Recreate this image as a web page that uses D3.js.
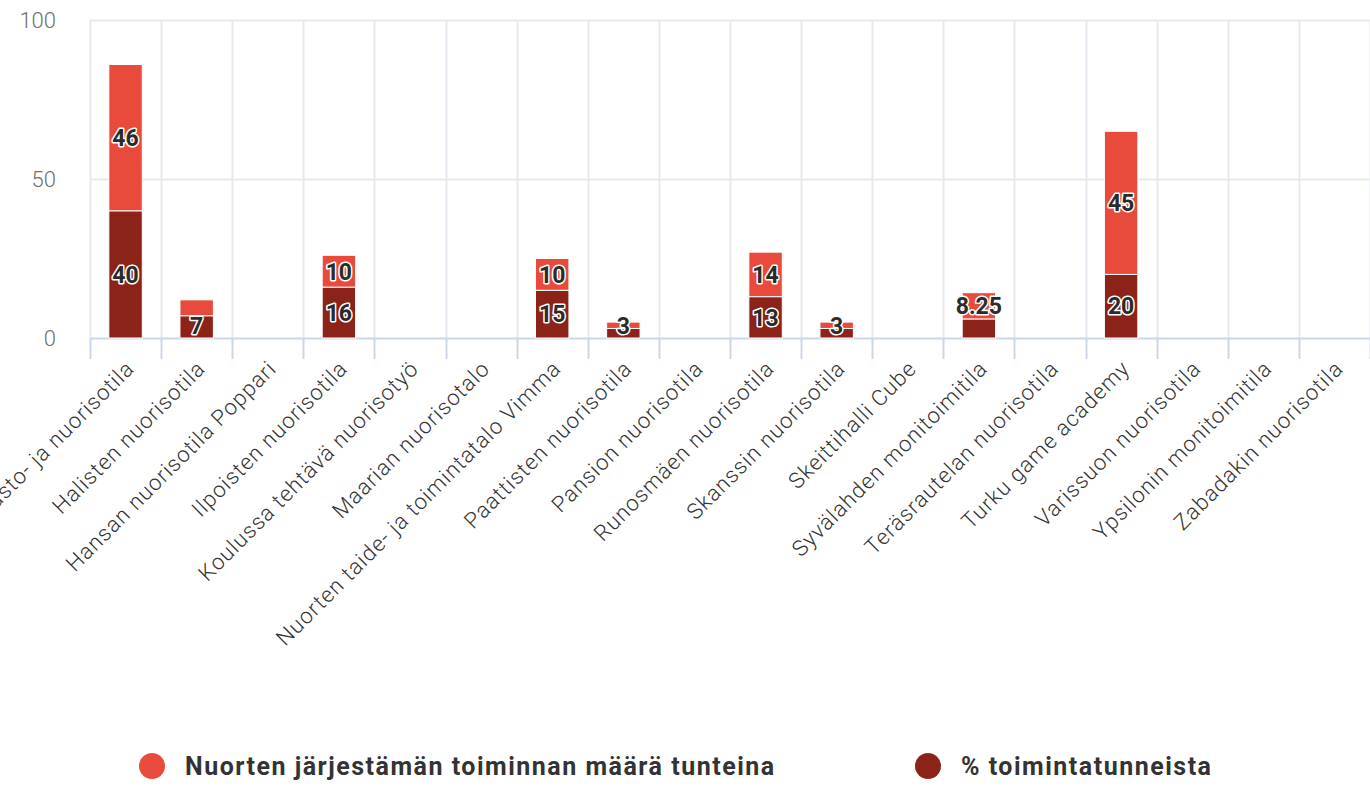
<!DOCTYPE html>
<html>
<head>
<meta charset="utf-8">
<script src="https://cdn.jsdelivr.net/npm/d3@7"></script>
<style>
  html, body { margin: 0; padding: 0; background: #fff; }
  svg { display: block; }
</style>
</head>
<body>
<svg id="chart" width="1370" height="788"></svg>
<script>
// ---- data ----
const categories = [
  "Kirjasto- ja nuorisotila",
  "Halisten nuorisotila",
  "Hansan nuorisotila Poppari",
  "Ilpoisten nuorisotila",
  "Koulussa tehtävä nuorisotyö",
  "Maarian nuorisotalo",
  "Nuorten taide- ja toimintatalo Vimma",
  "Paattisten nuorisotila",
  "Pansion nuorisotila",
  "Runosmäen nuorisotila",
  "Skanssin nuorisotila",
  "Skeittihalli Cube",
  "Syvälahden monitoimitila",
  "Teräsrautelan nuorisotila",
  "Turku game academy",
  "Varissuon nuorisotila",
  "Ypsilonin monitoimitila",
  "Zabadakin nuorisotila"
];
const seriesNames = ["Nuorten järjestämän toiminnan määrä tunteina", "% toimintatunneista"];
// top (light) series
const hoursValues = [46, 5, null, 10, null, null, 10, 2, null, 14, 2, null, 8.25, null, 45, null, null, null];
// bottom (dark) series
const percentValues = [40, 7, null, 16, null, null, 15, 3, null, 13, 3, null, 6, null, 20, null, null, null];
const yTicks = [0, 50, 100];
const colors = ["#e84b3c", "#8c2319"];

// ---- layout ----
const plot = { left: 90, top: 20, right: 1370, bottom: 338 };
const svg = d3.select("#chart");
const FONT = "Roboto, 'Open Sans', sans-serif";

const x = d3.scaleBand().domain(categories).range([plot.left, plot.right]).paddingInner(0).paddingOuter(0);
const y = d3.scaleLinear().domain([0, 100]).range([plot.bottom, plot.top]);
const barW = x.bandwidth() * 0.47;

// horizontal grid
svg.append("g").selectAll("line").data(yTicks.filter(d => d > 0)).join("line")
  .attr("x1", plot.left).attr("x2", plot.right)
  .attr("y1", d => y(d) + 0.5).attr("y2", d => y(d) + 0.5)
  .attr("stroke", "#e6e9f0").attr("stroke-width", 2);

// vertical grid (category boundaries)
const bounds = categories.map(c => x(c)).concat([plot.right]);
svg.append("g").selectAll("line").data(bounds).join("line")
  .attr("x1", d => Math.round(d) + 0.5).attr("x2", d => Math.round(d) + 0.5)
  .attr("y1", plot.top).attr("y2", plot.bottom)
  .attr("stroke", "#e6e9f0").attr("stroke-width", 2);

// x axis line & ticks
const xAxis = d3.axisBottom(x).tickSize(0).tickFormat("");
svg.append("g").attr("transform", `translate(0,${plot.bottom})`).call(xAxis)
  .call(g => g.select(".domain").attr("stroke", "#ccd6eb").attr("stroke-width", 2));
svg.append("g").selectAll("line").data(bounds).join("line")
  .attr("x1", d => Math.round(d) + 0.5).attr("x2", d => Math.round(d) + 0.5)
  .attr("y1", plot.bottom).attr("y2", plot.bottom + 21)
  .attr("stroke", "#ccd6eb").attr("stroke-width", 2);

// y axis labels
const yAxis = d3.axisLeft(y).tickValues(yTicks).tickSize(0).tickPadding(0);
svg.append("g").attr("transform", `translate(${plot.left - 34},0)`).call(yAxis)
  .call(g => g.select(".domain").remove())
  .call(g => g.selectAll("text")
    .attr("font-family", FONT).attr("font-weight", 300).attr("font-size", 22)
    .attr("fill", "#707070").attr("dy", "0.32em"));

// x labels rotated
svg.append("g").selectAll("text").data(categories).join("text")
  .attr("transform", d => `translate(${x(d) + x.bandwidth() / 2 + 10},${plot.bottom + 32}) rotate(-45)`)
  .attr("text-anchor", "end")
  .attr("font-family", FONT).attr("font-weight", 300).attr("font-size", 22)
  .attr("letter-spacing", "1px")
  .attr("fill", "#333")
  .text(d => d);

// stacked bars
const rows = categories.map((c, i) => ({ c, bottom: percentValues[i] || 0, top: hoursValues[i] || 0, bv: percentValues[i], tv: hoursValues[i] }));
const barG = svg.append("g");
rows.forEach(r => {
  const cx = x(r.c) + x.bandwidth() / 2;
  if (r.bv) {
    barG.append("rect").attr("x", cx - barW / 2).attr("width", barW)
      .attr("y", y(r.bottom)).attr("height", y(0) - y(r.bottom))
      .attr("fill", colors[1]).attr("stroke", "#fff").attr("stroke-width", 1);
  }
  if (r.tv) {
    barG.append("rect").attr("x", cx - barW / 2).attr("width", barW)
      .attr("y", y(r.bottom + r.top)).attr("height", y(r.bottom) - y(r.bottom + r.top))
      .attr("fill", colors[0]).attr("stroke", "#fff").attr("stroke-width", 1);
  }
});

// data labels (centered, justified inside plot, overlapping smaller ones hidden)
const LH = 22;
const labelG = svg.append("g");
rows.forEach(r => {
  const cx = x(r.c) + x.bandwidth() / 2;
  const labs = [];
  if (r.bv) labs.push({ v: r.bv, h: y(0) - y(r.bottom), cy: (y(0) + y(r.bottom)) / 2 });
  if (r.tv) labs.push({ v: r.tv, h: y(r.bottom) - y(r.bottom + r.top), cy: (y(r.bottom) + y(r.bottom + r.top)) / 2 });
  labs.forEach(l => { if (l.cy + LH / 2 > plot.bottom - 1) l.cy = plot.bottom - 1 - LH / 2; });
  let show = labs;
  if (labs.length === 2 && Math.abs(labs[0].cy - labs[1].cy) < LH) {
    show = [labs[0].h >= labs[1].h ? labs[0] : labs[1]];
  }
  show.forEach(l => {
    labelG.append("text")
      .attr("x", cx).attr("y", l.cy).attr("dy", "0.36em")
      .attr("text-anchor", "middle")
      .attr("font-family", FONT).attr("font-weight", 700).attr("font-size", 23)
      .attr("fill", "#2b2b2b")
      .attr("stroke", "#fff").attr("stroke-width", 3).attr("stroke-linejoin", "round")
      .attr("paint-order", "stroke")
      .text(l.v);
  });
});

// legend
const legendItems = [
  { name: seriesNames[0], color: colors[0], cx: 152 },
  { name: seriesNames[1], color: colors[1], cx: 928 }
];
const lg = svg.append("g");
legendItems.forEach(it => {
  lg.append("circle").attr("cx", it.cx).attr("cy", 766).attr("r", 13).attr("fill", it.color);
  lg.append("text").attr("x", it.cx + 33).attr("y", 766).attr("dy", "0.35em")
    .attr("font-family", FONT).attr("font-weight", 700).attr("font-size", 25)
    .attr("letter-spacing", "1.5px")
    .attr("fill", "#333").text(it.name);
});
</script>
</body>
</html>
